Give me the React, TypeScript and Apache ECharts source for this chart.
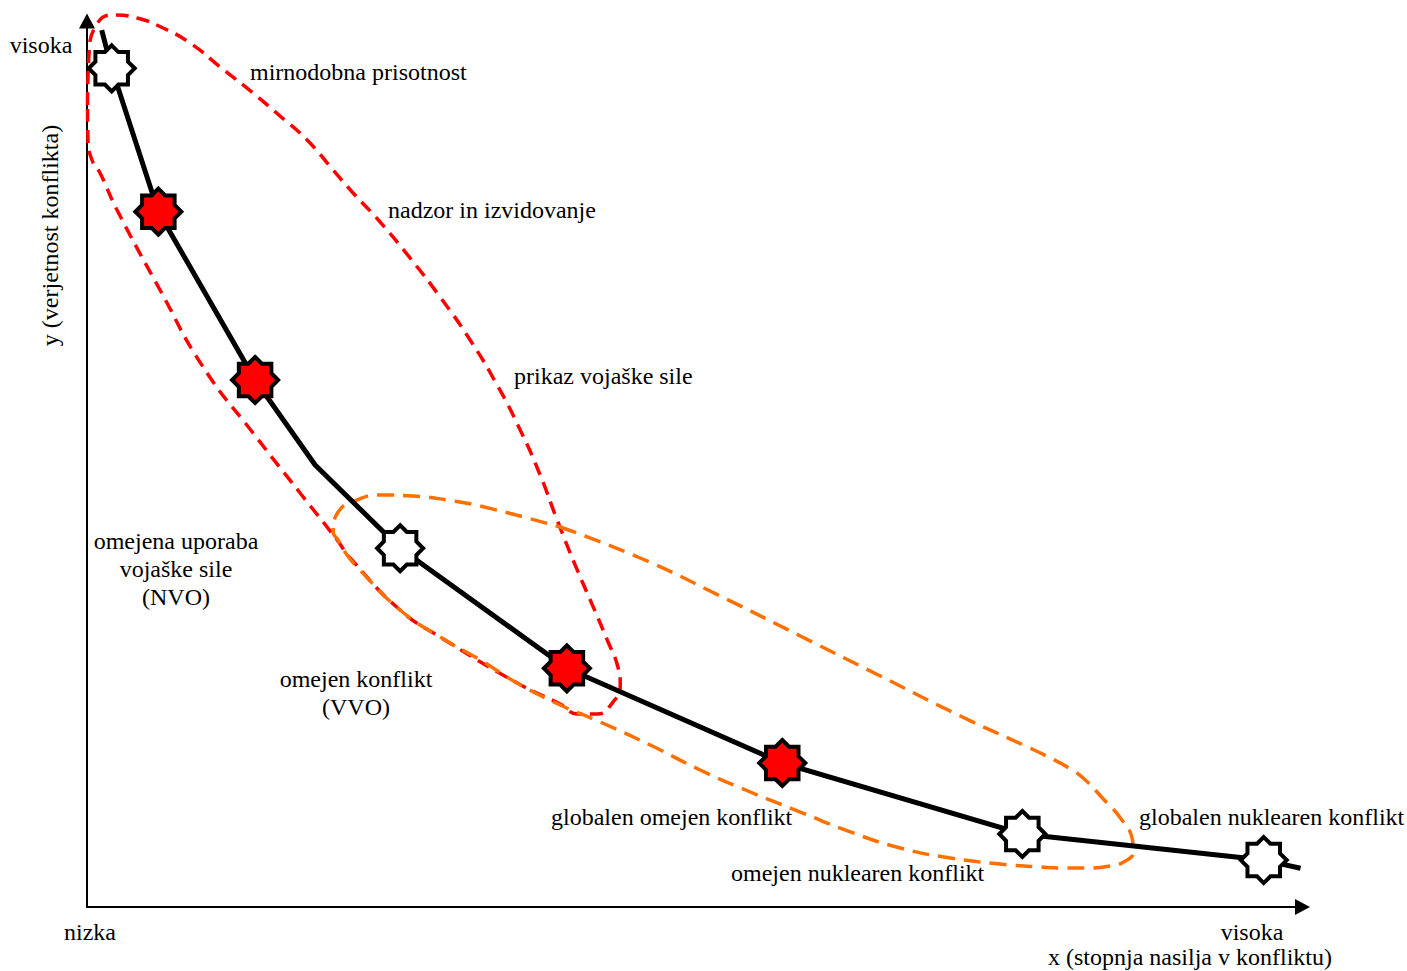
import React, { useEffect, useRef } from "react";
import * as echarts from "echarts";

// Conceptual axes: 0..100 on both (no numeric ticks shown)
const curvePoints: [number, number][] = [
  [1.21, 98.98], [2.03, 94.66], [5.87, 78.48], [13.83, 59.48], [18.77, 49.89],
  [25.76, 40.49], [39.48, 26.94], [57.2, 16.25], [76.95, 8.24], [96.81, 5.3], [99.84, 4.37],
];

const whiteMarkers: [number, number][] = [
  [2.03, 94.66], [25.76, 40.49], [76.95, 8.24], [96.81, 5.3],
];

const redMarkers: [number, number][] = [
  [5.87, 78.48], [13.83, 59.48], [39.48, 26.94], [57.2, 16.25],
];

// outline of the red dashed region (peacetime presence .. show of force)
const redOutline: [number, number][] = [
  [0.04, 90.52], [0.16, 96.16], [0.82, 99.66], [2.14, 100.68], [4.12, 100.34], [6.26, 99.21],
  [8.48, 97.52], [10.95, 94.81], [13.66, 91.87], [15.88, 89.28], [18.11, 86.57], [20.25, 83.18],
  [21.89, 80.59], [24.12, 77.31], [26.58, 73.25], [29.05, 68.85], [31.52, 64.0], [33.74, 58.92],
  [35.64, 53.84], [37.28, 48.76], [38.68, 43.68], [40.16, 38.6], [41.4, 34.65], [42.8, 30.14],
  [43.7, 26.98], [43.87, 25.06], [43.21, 23.02], [41.98, 21.78], [40.41, 21.78], [38.93, 22.91],
  [35.39, 25.28], [29.05, 30.47], [25.76, 33.52], [21.65, 39.39], [20.58, 41.42], [17.53, 46.73],
  [13.66, 53.5], [9.55, 60.95], [6.01, 69.64], [2.47, 78.67], [1.07, 82.84], [0.41, 84.31],
  [0.08, 86.57], [0.04, 90.52],
];

// outline of the orange dashed region (limited .. limited nuclear conflict)
const orangeOutline: [number, number][] = [
  [38.93, 42.89], [45.51, 39.39], [52.1, 35.1], [58.68, 30.59], [65.27, 26.07], [71.85, 21.56],
  [77.2, 18.17], [79.26, 16.82], [80.91, 15.58], [82.14, 14.33], [83.54, 12.3], [85.02, 10.05], [86.01, 7.56],
  [86.09, 6.21], [85.43, 5.19], [84.2, 4.63], [82.3, 4.4], [80.08, 4.4], [78.44, 4.51],
  [75.14, 4.85], [71.03, 5.53], [66.91, 6.66], [62.8, 8.47], [58.68, 10.72], [54.57, 12.98],
  [50.45, 15.46], [46.34, 18.28], [42.22, 20.88], [38.93, 22.8], [35.39, 25.28], [32.35, 27.88],
  [29.05, 30.47], [25.76, 33.52], [22.3, 38.26], [21.4, 39.73], [20.66, 41.42], [20.25, 42.33],
  [20.66, 44.58], [22.22, 45.94], [24.12, 46.5], [26.83, 46.39], [29.63, 45.94], [32.35, 45.26],
  [38.93, 42.89],
];

const yAxisName = "y (verjetnost konflikta)";
const xAxisName = "x (stopnja nasilja v konfliktu)";
const axisLow = "nizka";
const axisHigh = "visoka";

// 8-point star (two overlapping squares)
const STAR_PATH =
  "path://M50 0 L64.64 14.66 L85.36 14.64 L85.34 35.36 L100 50 L85.34 64.64 L85.36 85.36 L64.64 85.34 L50 100 L35.36 85.34 L14.64 85.36 L14.66 64.64 L0 50 L14.66 35.36 L14.64 14.64 L35.36 14.66 Z";

const FONT = '24px "Liberation Serif", "Times New Roman", serif';

function txt(
  text: string,
  x: number,
  y: number,
  align: "left" | "center" | "right" = "left",
  extra: Record<string, unknown> = {}
) {
  return {
    type: "text",
    x,
    y,
    z: 100,
    silent: true,
    ...extra,
    style: {
      text,
      font: FONT,
      fill: "#000",
      align,
      textAlign: align,
      verticalAlign: "middle",
      textVerticalAlign: "middle",
      lineHeight: 28,
    },
  };
}

export default function App() {
  const ref = useRef<HTMLDivElement>(null);

  useEffect(() => {
    if (!ref.current) return;
    const chart = echarts.init(ref.current, null, { renderer: "svg" });

    const axisCommon = {
      type: "value",
      min: 0,
      max: 100,
      axisLine: {
        show: true,
        onZero: false,
        symbol: ["none", "triangle"],
        symbolSize: [16, 15],
        lineStyle: { color: "#000", width: 2 },
      },
      axisTick: { show: false },
      axisLabel: { show: false },
      splitLine: { show: false },
    };

    const option = {
      animation: false,
      backgroundColor: "#fff",
      grid: { left: 87, top: 21, right: 104.5, bottom: 64, containLabel: false },
      xAxis: { ...axisCommon },
      yAxis: { ...axisCommon },
      series: [
        {
          type: "line",
          data: redOutline,
          smooth: 0.5,
          symbol: "none",
          clip: false,
          silent: true,
          z: 2,
          lineStyle: { color: "#ff0000", width: 3.5, type: [13, 8] },
          emphasis: { disabled: true },
        },
        {
          type: "line",
          data: orangeOutline,
          smooth: 0.5,
          symbol: "none",
          clip: false,
          silent: true,
          z: 3,
          lineStyle: { color: "#ff7000", width: 3.5, type: [17, 9] },
          emphasis: { disabled: true },
        },
        {
          type: "line",
          data: curvePoints,
          symbol: "none",
          clip: false,
          silent: true,
          z: 4,
          lineStyle: { color: "#000", width: 5, join: "round" },
          emphasis: { disabled: true },
        },
        {
          type: "scatter",
          data: redMarkers,
          symbol: STAR_PATH,
          symbolSize: 46,
          clip: false,
          silent: true,
          z: 5,
          itemStyle: { color: "#ff0000", borderColor: "#000", borderWidth: 4, borderJoin: "miter", opacity: 1 },
          emphasis: { disabled: true },
        },
        {
          type: "scatter",
          data: whiteMarkers,
          symbol: STAR_PATH,
          symbolSize: 46,
          clip: false,
          silent: true,
          z: 5,
          itemStyle: { color: "#fff", borderColor: "#000", borderWidth: 4, borderJoin: "miter", opacity: 1 },
          emphasis: { disabled: true },
        },
      ],
      graphic: [
        txt(axisHigh, 41, 45, "center"),
        txt(yAxisName, 50, 235.5, "center", { rotation: Math.PI / 2 }),
        txt(axisLow, 90, 932, "center"),
        txt(axisHigh, 1252, 932, "center"),
        txt(xAxisName, 1190, 957, "center"),
        txt("mirnodobna prisotnost", 250, 72),
        txt("nadzor in izvidovanje", 388, 210),
        txt("prikaz vojaške sile", 514, 376),
        txt("omejena uporaba\nvojaške sile\n(NVO)", 176, 569, "center"),
        txt("omejen konflikt\n(VVO)", 356, 693, "center"),
        txt("globalen omejen konflikt", 551, 817),
        txt("omejen nuklearen konflikt", 731, 873),
        txt("globalen nuklearen konflikt", 1139, 817),
      ],
    };

    chart.setOption(option as any);
    return () => chart.dispose();
  }, []);

  return (
    <div
      ref={ref}
      style={{ position: "absolute", left: 0, top: 0, width: 1407, height: 971, background: "#fff" }}
    />
  );
}
